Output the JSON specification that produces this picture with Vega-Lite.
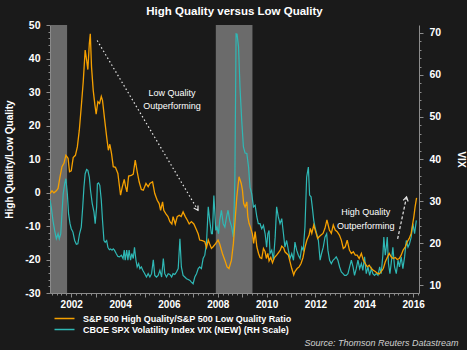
{
  "$schema": "https://vega.github.io/schema/vega-lite/v6.json",
  "width": 369,
  "height": 268,
  "autosize": "none",
  "padding": {"left": 50, "top": 25, "right": 48, "bottom": 57},
  "background": "#1a1a1a",
  "config": {
    "view": {"stroke": null},
    "font": "Liberation Sans",
    "axis": {
      "domainColor": "#8c8c8c",
      "tickColor": "#8c8c8c",
      "labelColor": "#ffffff",
      "labelFont": "Liberation Sans",
      "labelFontWeight": "bold",
      "labelFontSize": 10.5,
      "titleColor": "#ffffff",
      "titleFont": "Liberation Sans",
      "titleFontWeight": "bold",
      "titleFontSize": 10,
      "grid": false,
      "labelOverlap": false
    }
  },
  "title": {
    "text": "High Quality versus Low Quality",
    "color": "#ffffff",
    "font": "Liberation Sans",
    "fontSize": 11.5,
    "fontWeight": "bold",
    "anchor": "middle",
    "frame": "group",
    "baseline": "bottom",
    "offset": 3,
    "dy": 11
  },
  "datasets": {
    "recessions": [
      {"year": 2001.17, "end": 2001.83},
      {"year": 2007.92, "end": 2009.42}
    ],
    "ratio": [
      {"year": 2001.13, "value": -0.3}, {"year": 2001.21, "value": 0.5}, {"year": 2001.29, "value": -0.1},
      {"year": 2001.39, "value": 0.5}, {"year": 2001.46, "value": 1.2}, {"year": 2001.54, "value": 4.7},
      {"year": 2001.62, "value": 7.7}, {"year": 2001.70, "value": 8.7}, {"year": 2001.78, "value": 11.1},
      {"year": 2001.87, "value": 10.2}, {"year": 2001.93, "value": 6.2}, {"year": 2002.00, "value": 6.5},
      {"year": 2002.08, "value": 10.4}, {"year": 2002.17, "value": 11.1}, {"year": 2002.25, "value": 13.6},
      {"year": 2002.33, "value": 18.6}, {"year": 2002.41, "value": 25.6}, {"year": 2002.49, "value": 33.0},
      {"year": 2002.57, "value": 42.5}, {"year": 2002.63, "value": 39.5}, {"year": 2002.68, "value": 36.7},
      {"year": 2002.74, "value": 44.4}, {"year": 2002.78, "value": 47.4}, {"year": 2002.83, "value": 37.5},
      {"year": 2002.90, "value": 30.5}, {"year": 2002.97, "value": 26.1}, {"year": 2003.02, "value": 23.4},
      {"year": 2003.09, "value": 27.1}, {"year": 2003.16, "value": 26.6}, {"year": 2003.23, "value": 28.7},
      {"year": 2003.28, "value": 27.5}, {"year": 2003.37, "value": 21.6}, {"year": 2003.45, "value": 16.6},
      {"year": 2003.52, "value": 12.6}, {"year": 2003.58, "value": 14.4}, {"year": 2003.65, "value": 11.6},
      {"year": 2003.72, "value": 7.7}, {"year": 2003.81, "value": 7.5}, {"year": 2003.91, "value": 5.7},
      {"year": 2003.96, "value": 2.7}, {"year": 2004.02, "value": -0.8}, {"year": 2004.09, "value": 1.7},
      {"year": 2004.17, "value": 3.9}, {"year": 2004.22, "value": 1.9}, {"year": 2004.28, "value": 0.2},
      {"year": 2004.35, "value": 4.9}, {"year": 2004.46, "value": 5.1}, {"year": 2004.54, "value": 5.5},
      {"year": 2004.62, "value": 9.7}, {"year": 2004.70, "value": 6.2}, {"year": 2004.78, "value": 3.2},
      {"year": 2004.87, "value": 0.9}, {"year": 2004.95, "value": 0.7}, {"year": 2005.06, "value": 2.7},
      {"year": 2005.15, "value": 1.7}, {"year": 2005.22, "value": 2.7}, {"year": 2005.33, "value": 3.2},
      {"year": 2005.42, "value": -0.3}, {"year": 2005.52, "value": -2.3}, {"year": 2005.60, "value": -3.3},
      {"year": 2005.66, "value": -5.3}, {"year": 2005.74, "value": -2.8}, {"year": 2005.79, "value": -5.3},
      {"year": 2005.87, "value": -6.3}, {"year": 2005.96, "value": -7.2}, {"year": 2006.04, "value": -8.7},
      {"year": 2006.12, "value": -9.4}, {"year": 2006.17, "value": -7.2}, {"year": 2006.26, "value": -9.4},
      {"year": 2006.34, "value": -7.2}, {"year": 2006.42, "value": -6.8}, {"year": 2006.50, "value": -7.2},
      {"year": 2006.58, "value": -5.8}, {"year": 2006.67, "value": -7.2}, {"year": 2006.75, "value": -8.2},
      {"year": 2006.83, "value": -9.4}, {"year": 2006.92, "value": -8.7}, {"year": 2007.02, "value": -9.4},
      {"year": 2007.10, "value": -10.7}, {"year": 2007.20, "value": -12.4}, {"year": 2007.26, "value": -14.2},
      {"year": 2007.37, "value": -14.4}, {"year": 2007.47, "value": -14.7}, {"year": 2007.54, "value": -16.4},
      {"year": 2007.61, "value": -14.2}, {"year": 2007.67, "value": -15.4}, {"year": 2007.74, "value": -16.7},
      {"year": 2007.81, "value": -16.2}, {"year": 2007.92, "value": -15.2}, {"year": 2008.01, "value": -14.2},
      {"year": 2008.08, "value": -15.4}, {"year": 2008.19, "value": -18.2}, {"year": 2008.29, "value": -20.2},
      {"year": 2008.38, "value": -22.2}, {"year": 2008.46, "value": -22.7}, {"year": 2008.56, "value": -20.2},
      {"year": 2008.64, "value": -15.2}, {"year": 2008.71, "value": -8.2}, {"year": 2008.78, "value": -1.3},
      {"year": 2008.87, "value": 4.7}, {"year": 2008.96, "value": 2.7}, {"year": 2009.01, "value": 0.7},
      {"year": 2009.06, "value": -3.3}, {"year": 2009.12, "value": -4.3}, {"year": 2009.19, "value": -2.8},
      {"year": 2009.23, "value": -7.2}, {"year": 2009.28, "value": -9.2}, {"year": 2009.34, "value": -10.4},
      {"year": 2009.42, "value": -12.4}, {"year": 2009.47, "value": -15.2}, {"year": 2009.53, "value": -11.7},
      {"year": 2009.60, "value": -16.2}, {"year": 2009.67, "value": -18.2}, {"year": 2009.73, "value": -19.4},
      {"year": 2009.80, "value": -19.7}, {"year": 2009.87, "value": -16.7}, {"year": 2009.94, "value": -17.7},
      {"year": 2009.99, "value": -19.7}, {"year": 2010.05, "value": -18.2}, {"year": 2010.10, "value": -20.4},
      {"year": 2010.17, "value": -19.4}, {"year": 2010.24, "value": -21.0}, {"year": 2010.32, "value": -19.4},
      {"year": 2010.41, "value": -18.7}, {"year": 2010.48, "value": -18.0}, {"year": 2010.56, "value": -17.2},
      {"year": 2010.62, "value": -16.0}, {"year": 2010.70, "value": -16.6}, {"year": 2010.75, "value": -17.7},
      {"year": 2010.82, "value": -18.2}, {"year": 2010.89, "value": -18.7}, {"year": 2010.96, "value": -20.7},
      {"year": 2011.03, "value": -22.7}, {"year": 2011.11, "value": -24.6}, {"year": 2011.16, "value": -23.6},
      {"year": 2011.25, "value": -22.7}, {"year": 2011.33, "value": -22.2}, {"year": 2011.41, "value": -21.2},
      {"year": 2011.49, "value": -19.4}, {"year": 2011.57, "value": -16.4}, {"year": 2011.65, "value": -14.2},
      {"year": 2011.74, "value": -12.7}, {"year": 2011.79, "value": -10.7}, {"year": 2011.85, "value": -12.2},
      {"year": 2011.93, "value": -9.7}, {"year": 2012.01, "value": -11.7}, {"year": 2012.09, "value": -13.7},
      {"year": 2012.15, "value": -13.2}, {"year": 2012.23, "value": -12.7}, {"year": 2012.31, "value": -12.2},
      {"year": 2012.39, "value": -10.7}, {"year": 2012.47, "value": -8.2}, {"year": 2012.57, "value": -11.2},
      {"year": 2012.65, "value": -12.2}, {"year": 2012.73, "value": -9.7}, {"year": 2012.81, "value": -11.2},
      {"year": 2012.89, "value": -11.7}, {"year": 2012.98, "value": -12.7}, {"year": 2013.06, "value": -14.2},
      {"year": 2013.14, "value": -16.7}, {"year": 2013.22, "value": -16.2}, {"year": 2013.30, "value": -14.2},
      {"year": 2013.39, "value": -17.2}, {"year": 2013.47, "value": -18.2}, {"year": 2013.55, "value": -17.7},
      {"year": 2013.63, "value": -18.7}, {"year": 2013.71, "value": -18.7}, {"year": 2013.79, "value": -19.7},
      {"year": 2013.88, "value": -18.2}, {"year": 2013.96, "value": -20.2}, {"year": 2014.04, "value": -21.2},
      {"year": 2014.12, "value": -22.2}, {"year": 2014.20, "value": -21.7}, {"year": 2014.29, "value": -22.7},
      {"year": 2014.37, "value": -23.2}, {"year": 2014.45, "value": -23.6}, {"year": 2014.53, "value": -24.1},
      {"year": 2014.61, "value": -24.3}, {"year": 2014.69, "value": -23.6}, {"year": 2014.78, "value": -22.7},
      {"year": 2014.86, "value": -20.7}, {"year": 2014.94, "value": -19.4}, {"year": 2015.02, "value": -18.2},
      {"year": 2015.10, "value": -19.2}, {"year": 2015.18, "value": -19.7}, {"year": 2015.27, "value": -19.4},
      {"year": 2015.35, "value": -20.0}, {"year": 2015.43, "value": -19.7}, {"year": 2015.51, "value": -18.7},
      {"year": 2015.59, "value": -17.2}, {"year": 2015.68, "value": -16.2}, {"year": 2015.76, "value": -14.7},
      {"year": 2015.84, "value": -13.7}, {"year": 2015.92, "value": -12.2}, {"year": 2015.98, "value": -9.4},
      {"year": 2016.03, "value": -7.2}, {"year": 2016.08, "value": -4.3}, {"year": 2016.14, "value": -1.6}
    ],
    "vix": [
      {"year": 2001.13, "value": 30.2}, {"year": 2001.18, "value": 28.6}, {"year": 2001.25, "value": 25.4},
      {"year": 2001.32, "value": 23.0}, {"year": 2001.39, "value": 21.0}, {"year": 2001.46, "value": 22.2},
      {"year": 2001.51, "value": 21.0}, {"year": 2001.57, "value": 22.2}, {"year": 2001.62, "value": 27.0},
      {"year": 2001.67, "value": 31.7}, {"year": 2001.73, "value": 34.1}, {"year": 2001.78, "value": 35.3},
      {"year": 2001.84, "value": 31.7}, {"year": 2001.89, "value": 27.0}, {"year": 2001.95, "value": 24.6},
      {"year": 2002.00, "value": 23.4}, {"year": 2002.07, "value": 22.6}, {"year": 2002.14, "value": 20.6},
      {"year": 2002.21, "value": 19.7}, {"year": 2002.27, "value": 19.8}, {"year": 2002.34, "value": 22.2},
      {"year": 2002.41, "value": 23.8}, {"year": 2002.47, "value": 28.6}, {"year": 2002.52, "value": 33.3},
      {"year": 2002.57, "value": 36.5}, {"year": 2002.63, "value": 37.5}, {"year": 2002.68, "value": 37.3},
      {"year": 2002.74, "value": 35.7}, {"year": 2002.79, "value": 32.5}, {"year": 2002.86, "value": 29.4},
      {"year": 2002.93, "value": 27.4}, {"year": 2002.98, "value": 24.6}, {"year": 2003.04, "value": 28.6},
      {"year": 2003.07, "value": 34.1}, {"year": 2003.12, "value": 34.3}, {"year": 2003.17, "value": 33.7},
      {"year": 2003.23, "value": 30.2}, {"year": 2003.28, "value": 25.4}, {"year": 2003.34, "value": 20.6},
      {"year": 2003.39, "value": 20.2}, {"year": 2003.45, "value": 20.6}, {"year": 2003.50, "value": 19.0},
      {"year": 2003.56, "value": 18.4}, {"year": 2003.61, "value": 18.6}, {"year": 2003.67, "value": 18.3},
      {"year": 2003.72, "value": 18.6}, {"year": 2003.77, "value": 18.3}, {"year": 2003.84, "value": 17.5},
      {"year": 2003.91, "value": 16.8}, {"year": 2003.98, "value": 16.7}, {"year": 2004.05, "value": 17.1},
      {"year": 2004.12, "value": 16.3}, {"year": 2004.17, "value": 18.3}, {"year": 2004.21, "value": 15.9},
      {"year": 2004.27, "value": 18.3}, {"year": 2004.32, "value": 15.9}, {"year": 2004.37, "value": 18.3},
      {"year": 2004.43, "value": 15.9}, {"year": 2004.48, "value": 17.5}, {"year": 2004.54, "value": 16.3},
      {"year": 2004.59, "value": 19.0}, {"year": 2004.65, "value": 15.9}, {"year": 2004.70, "value": 14.3},
      {"year": 2004.76, "value": 15.1}, {"year": 2004.81, "value": 13.9}, {"year": 2004.87, "value": 14.3},
      {"year": 2004.93, "value": 13.5}, {"year": 2005.01, "value": 12.7}, {"year": 2005.08, "value": 11.9},
      {"year": 2005.15, "value": 12.7}, {"year": 2005.22, "value": 11.9}, {"year": 2005.29, "value": 12.7},
      {"year": 2005.36, "value": 16.0}, {"year": 2005.42, "value": 12.3}, {"year": 2005.49, "value": 11.9},
      {"year": 2005.56, "value": 12.3}, {"year": 2005.63, "value": 13.5}, {"year": 2005.70, "value": 11.9},
      {"year": 2005.77, "value": 16.3}, {"year": 2005.83, "value": 12.7}, {"year": 2005.90, "value": 11.9},
      {"year": 2005.97, "value": 12.7}, {"year": 2006.04, "value": 12.5}, {"year": 2006.11, "value": 11.9},
      {"year": 2006.17, "value": 12.7}, {"year": 2006.24, "value": 12.5}, {"year": 2006.31, "value": 13.1},
      {"year": 2006.38, "value": 13.9}, {"year": 2006.45, "value": 21.0}, {"year": 2006.51, "value": 14.3},
      {"year": 2006.58, "value": 12.3}, {"year": 2006.65, "value": 11.9}, {"year": 2006.72, "value": 11.5},
      {"year": 2006.79, "value": 11.3}, {"year": 2006.86, "value": 11.1}, {"year": 2006.92, "value": 10.7},
      {"year": 2006.99, "value": 10.3}, {"year": 2007.06, "value": 11.9}, {"year": 2007.13, "value": 12.7},
      {"year": 2007.20, "value": 13.9}, {"year": 2007.26, "value": 14.3}, {"year": 2007.33, "value": 13.9},
      {"year": 2007.40, "value": 16.3}, {"year": 2007.47, "value": 17.1}, {"year": 2007.54, "value": 20.2},
      {"year": 2007.61, "value": 28.6}, {"year": 2007.67, "value": 25.4}, {"year": 2007.74, "value": 22.2},
      {"year": 2007.78, "value": 22.2}, {"year": 2007.84, "value": 31.3}, {"year": 2007.92, "value": 23.0},
      {"year": 2007.97, "value": 23.8}, {"year": 2008.03, "value": 22.2}, {"year": 2008.08, "value": 25.4},
      {"year": 2008.15, "value": 27.8}, {"year": 2008.22, "value": 24.6}, {"year": 2008.29, "value": 23.8},
      {"year": 2008.36, "value": 26.2}, {"year": 2008.42, "value": 27.8}, {"year": 2008.49, "value": 25.4},
      {"year": 2008.57, "value": 23.8}, {"year": 2008.64, "value": 21.4}, {"year": 2008.70, "value": 34.9},
      {"year": 2008.75, "value": 69.8}, {"year": 2008.79, "value": 69.7}, {"year": 2008.85, "value": 66.7},
      {"year": 2008.91, "value": 57.1}, {"year": 2008.98, "value": 49.2}, {"year": 2009.05, "value": 42.9},
      {"year": 2009.12, "value": 41.4}, {"year": 2009.19, "value": 41.3}, {"year": 2009.26, "value": 38.1},
      {"year": 2009.32, "value": 33.3}, {"year": 2009.39, "value": 31.7}, {"year": 2009.46, "value": 28.6},
      {"year": 2009.53, "value": 29.0}, {"year": 2009.60, "value": 26.2}, {"year": 2009.66, "value": 24.6},
      {"year": 2009.73, "value": 24.6}, {"year": 2009.80, "value": 23.4}, {"year": 2009.87, "value": 24.2},
      {"year": 2009.94, "value": 22.2}, {"year": 2010.00, "value": 19.0}, {"year": 2010.05, "value": 22.2},
      {"year": 2010.10, "value": 23.0}, {"year": 2010.14, "value": 17.5}, {"year": 2010.21, "value": 18.3},
      {"year": 2010.28, "value": 15.9}, {"year": 2010.35, "value": 21.4}, {"year": 2010.41, "value": 28.6},
      {"year": 2010.48, "value": 26.2}, {"year": 2010.55, "value": 24.6}, {"year": 2010.62, "value": 25.8},
      {"year": 2010.69, "value": 22.2}, {"year": 2010.75, "value": 19.0}, {"year": 2010.82, "value": 20.6},
      {"year": 2010.89, "value": 18.3}, {"year": 2010.96, "value": 16.3}, {"year": 2011.03, "value": 17.5},
      {"year": 2011.10, "value": 15.9}, {"year": 2011.16, "value": 20.2}, {"year": 2011.23, "value": 18.3},
      {"year": 2011.30, "value": 17.1}, {"year": 2011.37, "value": 16.3}, {"year": 2011.44, "value": 19.0},
      {"year": 2011.50, "value": 18.3}, {"year": 2011.57, "value": 23.8}, {"year": 2011.64, "value": 35.7},
      {"year": 2011.71, "value": 38.1}, {"year": 2011.76, "value": 31.4}, {"year": 2011.82, "value": 31.0},
      {"year": 2011.87, "value": 28.6}, {"year": 2011.93, "value": 25.4}, {"year": 2011.98, "value": 23.8},
      {"year": 2012.05, "value": 22.2}, {"year": 2012.12, "value": 20.6}, {"year": 2012.19, "value": 15.9},
      {"year": 2012.25, "value": 17.5}, {"year": 2012.32, "value": 19.0}, {"year": 2012.39, "value": 21.4},
      {"year": 2012.46, "value": 22.2}, {"year": 2012.51, "value": 18.3}, {"year": 2012.58, "value": 15.9},
      {"year": 2012.65, "value": 15.1}, {"year": 2012.72, "value": 15.9}, {"year": 2012.79, "value": 16.3},
      {"year": 2012.85, "value": 16.7}, {"year": 2012.92, "value": 15.9}, {"year": 2012.99, "value": 14.3},
      {"year": 2013.06, "value": 13.1}, {"year": 2013.13, "value": 12.7}, {"year": 2013.19, "value": 12.3},
      {"year": 2013.26, "value": 12.3}, {"year": 2013.33, "value": 12.7}, {"year": 2013.40, "value": 14.3},
      {"year": 2013.47, "value": 15.9}, {"year": 2013.54, "value": 14.3}, {"year": 2013.60, "value": 12.3},
      {"year": 2013.67, "value": 13.9}, {"year": 2013.74, "value": 15.9}, {"year": 2013.81, "value": 13.9},
      {"year": 2013.88, "value": 15.1}, {"year": 2013.94, "value": 13.5}, {"year": 2014.01, "value": 16.7},
      {"year": 2014.08, "value": 12.7}, {"year": 2014.15, "value": 14.3}, {"year": 2014.22, "value": 12.3},
      {"year": 2014.29, "value": 13.9}, {"year": 2014.35, "value": 12.7}, {"year": 2014.42, "value": 12.3},
      {"year": 2014.49, "value": 12.7}, {"year": 2014.56, "value": 12.3}, {"year": 2014.63, "value": 14.3},
      {"year": 2014.69, "value": 12.7}, {"year": 2014.76, "value": 17.1}, {"year": 2014.80, "value": 21.4},
      {"year": 2014.86, "value": 17.1}, {"year": 2014.90, "value": 19.0}, {"year": 2014.94, "value": 21.4},
      {"year": 2014.99, "value": 15.1}, {"year": 2015.05, "value": 12.7}, {"year": 2015.10, "value": 15.1},
      {"year": 2015.17, "value": 19.0}, {"year": 2015.24, "value": 14.3}, {"year": 2015.31, "value": 12.7},
      {"year": 2015.38, "value": 15.9}, {"year": 2015.44, "value": 14.3}, {"year": 2015.51, "value": 16.7},
      {"year": 2015.58, "value": 13.9}, {"year": 2015.65, "value": 16.7}, {"year": 2015.72, "value": 20.6},
      {"year": 2015.79, "value": 19.0}, {"year": 2015.85, "value": 19.8}, {"year": 2015.92, "value": 21.4},
      {"year": 2015.99, "value": 24.6}, {"year": 2016.06, "value": 22.2}, {"year": 2016.13, "value": 25.4}
    ],
    "arrows": [
      {"arrow": "low", "year": 2007.19, "value": -5.3, "year2": 2003.02, "value2": 45.9},
      {"arrow": "high", "year": 2015.73, "value": -1.3, "year2": 2015.35, "value2": -14.4}
    ],
    "notes": [
      {"year": 2006.13, "value": 29.8, "label": "Low Quality\nOutperforming"},
      {"year": 2014.06, "value": -5.9, "label": "High Quality\nOutperforming"}
    ]
  },
  "encoding": {
    "x": {
      "field": "year",
      "type": "quantitative",
      "scale": {"domain": [2001.13, 2016.24], "nice": false, "zero": false},
      "axis": {
        "orient": "bottom",
        "tickCount": 76,
        "labelExpr": "datum.value % 2 === 0 ? toString(datum.value) : ''",
        "tickSize": {"condition": {"test": "datum.value % 1 === 0", "value": 4}, "value": 2},
        "labelPadding": 2,
        "labelFontSize": 10,
        "labelFlush": false,
        "title": "Source: Thomson Reuters Datastream",
        "titleFontStyle": "italic",
        "titleFontWeight": "normal",
        "titleFontSize": 9,
        "titleColor": "#d0d0d0",
        "titleAlign": "right",
        "titleBaseline": "middle",
        "titleAnchor": "end",
        "titleX": 408,
        "titleY": 49
      }
    }
  },
  "layer": [
    {
      "data": {"name": "recessions"},
      "mark": {"type": "rect", "color": "#6b6b6b"},
      "encoding": {"x2": {"field": "end"}}
    },
    {
      "data": {"name": "vix"},
      "mark": {"type": "line", "strokeWidth": 1.2, "clip": true},
      "encoding": {
        "y": {
          "field": "value",
          "type": "quantitative",
          "scale": {"domain": [8.1, 71.9], "nice": false, "zero": false},
          "axis": {
            "orient": "right",
            "tickCount": 32,
            "labelExpr": "datum.value % 10 === 0 ? toString(datum.value) : ''",
            "tickSize": {"condition": {"test": "datum.value % 10 === 0", "value": 4}, "value": 2},
            "labelPadding": 6,
            "title": "VIX",
            "titleAngle": 90,
            "titleX": 41,
            "titleY": 134,
            "titleAlign": "center",
            "titleBaseline": "middle"
          }
        },
        "color": {"datum": "CBOE SPX Volatility Index VIX (NEW) (RH Scale)"}
      }
    },
    {
      "encoding": {
        "y": {
          "field": "value",
          "type": "quantitative",
          "scale": {"domain": [-30, 50], "nice": false, "zero": false},
          "axis": {
            "orient": "left",
            "tickCount": 40,
            "labelExpr": "datum.value % 10 === 0 ? toString(datum.value) : ''",
            "tickSize": {"condition": {"test": "datum.value % 10 === 0", "value": 4}, "value": 2},
            "labelPadding": 6,
            "title": "High Quality/Low Quality",
            "titleAngle": -90,
            "titleX": -41,
            "titleY": 134,
            "titleAlign": "center",
            "titleBaseline": "middle"
          }
        }
      },
      "layer": [
        {
          "data": {"name": "ratio"},
          "mark": {"type": "line", "strokeWidth": 1.3, "clip": true},
          "encoding": {
            "color": {
              "datum": "S&P 500 High Quality/S&P 500 Low Quality Ratio",
              "scale": {
                "domain": ["S&P 500 High Quality/S&P 500 Low Quality Ratio", "CBOE SPX Volatility Index VIX (NEW) (RH Scale)"],
                "range": ["#f5a000", "#2fb8b5"]
              },
              "legend": {
                "orient": "none",
                "legendX": 10,
                "legendY": 289,
                "direction": "vertical",
                "title": null,
                "symbolType": "M-5,0L5,0",
                "symbolSize": 16,
                "symbolStrokeWidth": 1.5,
                "labelColor": "#ffffff",
                "labelFont": "Liberation Sans",
                "labelFontSize": 9,
                "labelFontWeight": "bold",
                "labelOffset": 14,
                "rowPadding": 1,
                "padding": 0,
                "labelLimit": 400
              }
            }
          }
        },
        {
          "data": {"name": "arrows"},
          "transform": [{"filter": "datum.arrow === 'low'"}],
          "mark": {"type": "rule", "color": "#e6e6e6", "strokeWidth": 1.2, "strokeDash": [1.5, 2.5]},
          "encoding": {"x2": {"field": "year2"}, "y2": {"field": "value2"}}
        },
        {
          "data": {"name": "arrows"},
          "transform": [{"filter": "datum.arrow === 'high'"}],
          "mark": {"type": "rule", "color": "#e6e6e6", "strokeWidth": 1.2, "strokeDash": [3, 2]},
          "encoding": {"x2": {"field": "year2"}, "y2": {"field": "value2"}}
        },
        {
          "data": {"name": "arrows"},
          "transform": [{"filter": "datum.arrow === 'low'"}],
          "mark": {"type": "point", "shape": "M-0.6,1L0,0L0.6,1", "filled": false, "stroke": "#e6e6e6", "strokeWidth": 1.2, "size": 70, "angle": 149, "opacity": 1},
          "encoding": {}
        },
        {
          "data": {"name": "arrows"},
          "transform": [{"filter": "datum.arrow === 'high'"}],
          "mark": {"type": "point", "shape": "M-0.6,1L0,0L0.6,1", "filled": false, "stroke": "#e6e6e6", "strokeWidth": 1.2, "size": 70, "angle": 12, "opacity": 1},
          "encoding": {}
        },
        {
          "data": {"name": "notes"},
          "mark": {"type": "text", "color": "#ffffff", "font": "Liberation Sans", "fontSize": 9, "lineBreak": "\n", "lineHeight": 13.5, "align": "center", "baseline": "middle"},
          "encoding": {"text": {"field": "label"}}
        }
      ]
    }
  ],
  "resolve": {"scale": {"y": "independent"}}
}
